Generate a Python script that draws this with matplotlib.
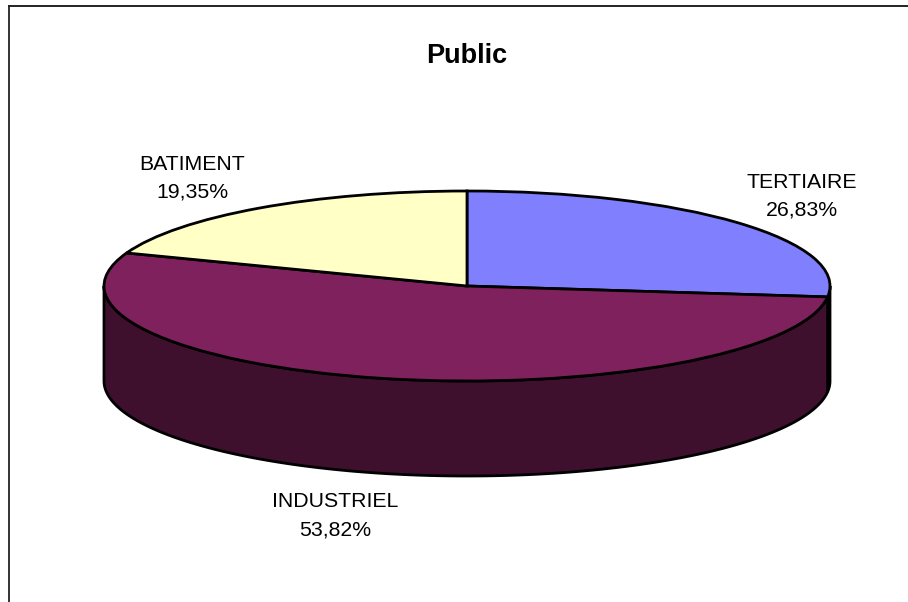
import numpy as np
import matplotlib
matplotlib.use("Agg")
import matplotlib.pyplot as plt

labels = ["TERTIAIRE", "INDUSTRIEL", "BATIMENT"]
values = [26.83, 53.82, 19.35]
value_text = ["26,83%", "53,82%", "19,35%"]
colors = ["#8080FF", "#7F215D", "#FFFFC6"]
wall_colors = ["#404080", "#3F102E", "#80805F"]

plt.rcParams["font.family"] = ["Liberation Sans", "DejaVu Sans"]

W, H = 908, 602
cx, cy, rx, ry = 467, 286, 363, 95
depth = 1.0

fig = plt.figure(figsize=(W / 100, H / 100), dpi=100)
ax = fig.add_axes([0, 0, 1, 1])

# side wall first, slice by slice, only the part facing the viewer
start = 90
angles = [start]
for v in values:
    angles.append(angles[-1] - v * 3.6)
for i in range(len(values)):
    a0, a1 = angles[i + 1], angles[i]
    # lower half of the ellipse is -180..0
    for lo, hi in [(a0, a1), (a0 + 360, a1 + 360), (a0 - 360, a1 - 360)]:
        lo2, hi2 = max(lo, -180), min(hi, 0)
        if lo2 >= hi2:
            continue
        t = np.radians(np.linspace(lo2, hi2, 200))
        xs = np.cos(t)
        ys = np.sin(t)
        ax.fill(np.r_[xs, xs[::-1]], np.r_[ys, ys[::-1] - depth],
                facecolor=wall_colors[i], edgecolor="black", linewidth=2.0, zorder=1)

ax.pie(values, colors=colors, startangle=90, counterclock=False, radius=1,
       wedgeprops=dict(edgecolor="black", linewidth=2.0, zorder=2))
ax.set_aspect("auto")
ax.set_xlim(-cx / rx, (W - cx) / rx)
ax.set_ylim((cy - H) / ry, cy / ry)
ax.axis("off")


def px(x, y):
    return x / W, 1 - y / H


fig.text(*px(467, 56), "Public", fontsize=19.5, fontweight="bold", ha="center", va="center")
label_pos = [(802, 182.5), (335, 501.5), (192, 164.5)]
value_pos = [(802, 210), (335, 530), (192, 192.5)]
for i in range(len(labels)):
    fig.text(*px(*label_pos[i]), labels[i], fontsize=15.3, ha="center", va="center")
    fig.text(*px(*value_pos[i]), value_text[i], fontsize=15.3, ha="center", va="center")

# chart area border, cut off at the right and bottom of the picture
fig.add_artist(plt.Line2D([9 / W, 9 / W], [0, 1 - 6 / H], color="#333333", linewidth=1.4))
fig.add_artist(plt.Line2D([9 / W, 1], [1 - 6 / H, 1 - 6 / H], color="#222222", linewidth=1.4))

fig.savefig("out.png", dpi=100)
